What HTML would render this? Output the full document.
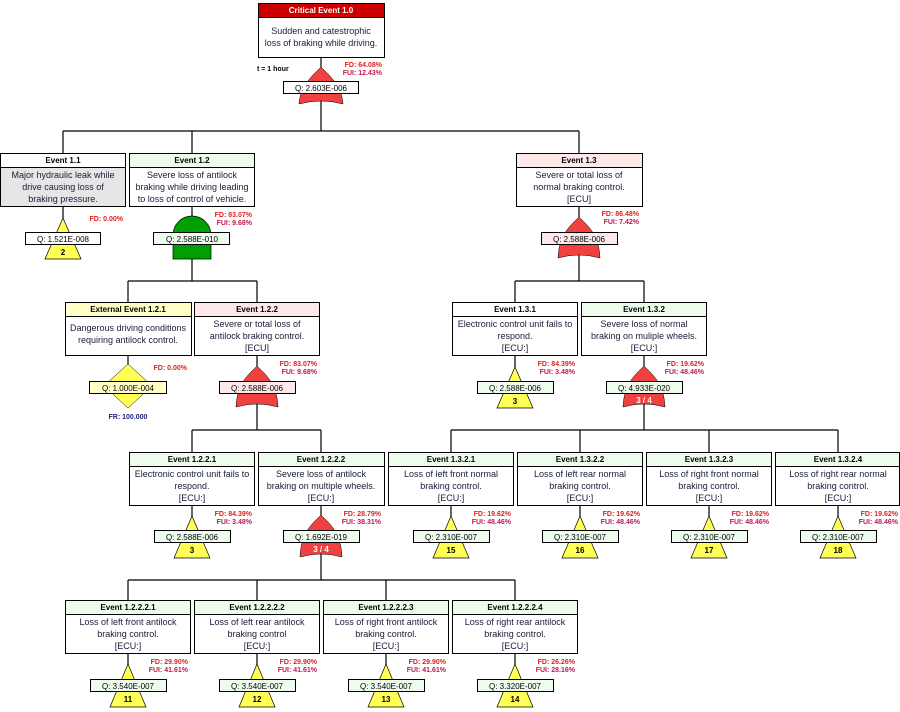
<!DOCTYPE html>
<html><head><meta charset="utf-8"><style>
html,body{margin:0;padding:0;background:#fff;width:900px;height:712px;overflow:hidden}
svg{display:block;font-family:"Liberation Sans",sans-serif}
.h{font-size:8px;font-weight:bold;fill:#000;text-anchor:middle}
.b{font-size:9px;fill:#1a1a3a;text-anchor:middle}
.q{font-size:8px;fill:#000;text-anchor:middle}
.fd{font-size:7px;font-weight:bold;fill:#e02020;text-anchor:end}
.fu{font-size:7px;font-weight:bold;fill:#c01850;text-anchor:end}
.n{font-size:8px;font-weight:bold;fill:#000;text-anchor:middle}
.nw{font-size:8px;font-weight:bold;fill:#fff;text-anchor:middle}
rect{stroke:#000;stroke-width:1}
line{stroke:#000;stroke-width:1.2}
</style></head><body>
<svg width="900" height="712" viewBox="0 0 900 712">
<!-- connectors -->
<line x1="321" y1="57" x2="321" y2="131"/>
<line x1="63" y1="131" x2="579" y2="131"/>
<line x1="63" y1="131" x2="63" y2="153"/>
<line x1="192" y1="131" x2="192" y2="153"/>
<line x1="579" y1="131" x2="579" y2="153"/>
<line x1="63" y1="206" x2="63" y2="220"/>
<line x1="192" y1="206" x2="192" y2="281"/>
<line x1="128" y1="281" x2="257" y2="281"/>
<line x1="128" y1="281" x2="128" y2="302"/>
<line x1="257" y1="281" x2="257" y2="302"/>
<line x1="579" y1="206" x2="579" y2="281"/>
<line x1="515" y1="281" x2="644" y2="281"/>
<line x1="515" y1="281" x2="515" y2="302"/>
<line x1="644" y1="281" x2="644" y2="302"/>
<line x1="128" y1="355" x2="128" y2="365"/>
<line x1="257" y1="355" x2="257" y2="430"/>
<line x1="192" y1="430" x2="321" y2="430"/>
<line x1="192" y1="430" x2="192" y2="452"/>
<line x1="321" y1="430" x2="321" y2="452"/>
<line x1="515" y1="355" x2="515" y2="368"/>
<line x1="644" y1="355" x2="644" y2="430"/>
<line x1="451" y1="430" x2="838" y2="430"/>
<line x1="451" y1="430" x2="451" y2="452"/>
<line x1="580" y1="430" x2="580" y2="452"/>
<line x1="709" y1="430" x2="709" y2="452"/>
<line x1="838" y1="430" x2="838" y2="452"/>
<line x1="192" y1="505" x2="192" y2="518"/>
<line x1="321" y1="505" x2="321" y2="580"/>
<line x1="128" y1="580" x2="515" y2="580"/>
<line x1="128" y1="580" x2="128" y2="600"/>
<line x1="257" y1="580" x2="257" y2="600"/>
<line x1="386" y1="580" x2="386" y2="600"/>
<line x1="515" y1="580" x2="515" y2="600"/>
<line x1="451" y1="505" x2="451" y2="518"/>
<line x1="580" y1="505" x2="580" y2="518"/>
<line x1="709" y1="505" x2="709" y2="518"/>
<line x1="838" y1="505" x2="838" y2="518"/>
<line x1="128" y1="653" x2="128" y2="666"/>
<line x1="257" y1="653" x2="257" y2="666"/>
<line x1="386" y1="653" x2="386" y2="666"/>
<line x1="515" y1="653" x2="515" y2="666"/>

<!-- TOP -->
<rect x="258.5" y="3.5" width="126" height="14" fill="#cc0000"/>
<text x="321" y="13" class="h" fill="#fff" style="fill:#fff">Critical Event 1.0</text>
<rect x="258.5" y="17.5" width="126" height="40" fill="#fff"/>
<text x="321" y="34" class="b">Sudden and catestrophic</text>
<text x="321" y="46" class="b">loss of braking while driving.</text>
<text x="257" y="71" style="font-size:7px;font-weight:bold" fill="#000">t = 1 hour</text>
<text x="382" y="67" class="fd">FD: 64.08%</text>
<text x="382" y="75" class="fu">FUI: 12.43%</text>
<path d="M321 67 C329 75,342 86,343 104 Q321 98,299 104 C300 86,313 75,321 67 Z" fill="#f04040" stroke="#000" stroke-width="0.5"/>
<rect x="283.5" y="81.5" width="75" height="12" fill="#fff"/>
<text x="321" y="91" class="q">Q: 2.603E-006</text>

<!-- 1.1 -->
<rect x="0.5" y="153.5" width="125" height="14" fill="#fff"/>
<text x="63" y="163" class="h">Event 1.1</text>
<rect x="0.5" y="167.5" width="125" height="39" fill="#e6e6e6"/>
<text x="63" y="178" class="b">Major hydraulic leak while</text>
<text x="63" y="190" class="b">drive causing loss of</text>
<text x="63" y="202" class="b">braking pressure.</text>
<text x="123" y="221" class="fd">FD: 0.00%</text>
<path d="M63 218 L81 259 L45 259 Z" fill="#ffff55" stroke="#000" stroke-width="0.7"/>
<rect x="25.5" y="232.5" width="75" height="12" fill="#fff"/>
<text x="63" y="242" class="q">Q: 1.521E-008</text>
<text x="63" y="255" class="n">2</text>

<!-- 1.2 -->
<rect x="129.5" y="153.5" width="125" height="14" fill="#eefcee"/>
<text x="192" y="163" class="h">Event 1.2</text>
<rect x="129.5" y="167.5" width="125" height="39" fill="#fff"/>
<text x="192" y="178" class="b">Severe loss of antilock</text>
<text x="192" y="190" class="b">braking while driving leading</text>
<text x="192" y="202" class="b">to loss of control of vehicle.</text>
<text x="252" y="217" class="fd">FD: 83.07%</text>
<text x="252" y="225" class="fu">FUI: 9.68%</text>
<path d="M173 259 L173 235 A19 19 0 0 1 211 235 L211 259 Z" fill="#00a000" stroke="#000" stroke-width="0.7"/>
<rect x="153.5" y="232.5" width="76" height="12" fill="#eefcee"/>
<text x="192" y="242" class="q">Q: 2.588E-010</text>

<!-- 1.3 -->
<rect x="516.5" y="153.5" width="126" height="14" fill="#fde9e9"/>
<text x="579" y="163" class="h">Event 1.3</text>
<rect x="516.5" y="167.5" width="126" height="39" fill="#fff"/>
<text x="579" y="178" class="b">Severe or total loss of</text>
<text x="579" y="190" class="b">normal braking control.</text>
<text x="579" y="202" class="b">[ECU]</text>
<text x="639" y="216" class="fd">FD: 86.48%</text>
<text x="639" y="224" class="fu">FUI: 7.42%</text>
<path d="M579 217 C587 225,599 234,600 258 Q579 252,558 258 C559 234,571 225,579 217 Z" fill="#f04040" stroke="#000" stroke-width="0.5"/>
<rect x="541.5" y="232.5" width="76" height="12" fill="#fde9e9"/>
<text x="579" y="242" class="q">Q: 2.588E-006</text>

<!-- 1.2.1 -->
<rect x="65.5" y="302.5" width="126" height="14" fill="#ffffc6"/>
<text x="128" y="312" class="h">External Event 1.2.1</text>
<rect x="65.5" y="316.5" width="126" height="39" fill="#fff"/>
<text x="128" y="331" class="b">Dangerous driving conditions</text>
<text x="128" y="343" class="b">requiring antilock control.</text>
<text x="187" y="370" class="fd">FD: 0.00%</text>
<path d="M128 364 L152 386 L128 408 L104 386 Z" fill="#ffff55" stroke="#000" stroke-width="0.5"/>
<rect x="89.5" y="381.5" width="77" height="12" fill="#ffffc6"/>
<text x="128" y="391" class="q">Q: 1.000E-004</text>
<text x="128" y="419" style="font-size:7px;font-weight:bold;text-anchor:middle" fill="#202080">FR: 100.000</text>

<!-- 1.2.2 -->
<rect x="194.5" y="302.5" width="125" height="14" fill="#fde9e9"/>
<text x="257" y="312" class="h">Event 1.2.2</text>
<rect x="194.5" y="316.5" width="125" height="39" fill="#fff"/>
<text x="257" y="327" class="b">Severe or total loss of</text>
<text x="257" y="339" class="b">antilock braking control.</text>
<text x="257" y="351" class="b">[ECU]</text>
<text x="317" y="366" class="fd">FD: 83.07%</text>
<text x="317" y="374" class="fu">FUI: 9.68%</text>
<path d="M257 366 C265 374,277 383,278 407 Q257 401,236 407 C237 383,249 374,257 366 Z" fill="#f04040" stroke="#000" stroke-width="0.5"/>
<rect x="219.5" y="381.5" width="76" height="12" fill="#fde9e9"/>
<text x="257" y="391" class="q">Q: 2.588E-006</text>

<!-- 1.3.1 -->
<rect x="452.5" y="302.5" width="125" height="14" fill="#fff"/>
<text x="515" y="312" class="h">Event 1.3.1</text>
<rect x="452.5" y="316.5" width="125" height="39" fill="#fff"/>
<text x="515" y="327" class="b">Electronic control unit fails to</text>
<text x="515" y="339" class="b">respond.</text>
<text x="515" y="351" class="b">[ECU:]</text>
<text x="575" y="366" class="fd">FD: 84.39%</text>
<text x="575" y="374" class="fu">FUI: 3.48%</text>
<path d="M515 367 L533 408 L497 408 Z" fill="#ffff55" stroke="#000" stroke-width="0.7"/>
<rect x="477.5" y="381.5" width="76" height="12" fill="#eefcee"/>
<text x="515" y="391" class="q">Q: 2.588E-006</text>
<text x="515" y="404" class="n">3</text>

<!-- 1.3.2 -->
<rect x="581.5" y="302.5" width="125" height="14" fill="#eefcee"/>
<text x="644" y="312" class="h">Event 1.3.2</text>
<rect x="581.5" y="316.5" width="125" height="39" fill="#fff"/>
<text x="644" y="327" class="b">Severe loss of normal</text>
<text x="644" y="339" class="b">braking on muliple wheels.</text>
<text x="644" y="351" class="b">[ECU:]</text>
<text x="704" y="366" class="fd">FD: 19.62%</text>
<text x="704" y="374" class="fu">FUI: 48.46%</text>
<path d="M644 366 C652 374,664 383,665 407 Q644 401,623 407 C624 383,636 374,644 366 Z" fill="#f04040" stroke="#000" stroke-width="0.5"/>
<rect x="606.5" y="381.5" width="76" height="12" fill="#eefcee"/>
<text x="644" y="391" class="q">Q: 4.933E-020</text>
<text x="644" y="403" class="nw">3 / 4</text>

<!-- 1.2.2.1 -->
<rect x="129.5" y="452.5" width="125" height="14" fill="#eefcee"/>
<text x="192" y="462" class="h">Event 1.2.2.1</text>
<rect x="129.5" y="466.5" width="125" height="39" fill="#fff"/>
<text x="192" y="477" class="b">Electronic control unit fails to</text>
<text x="192" y="489" class="b">respond.</text>
<text x="192" y="501" class="b">[ECU:]</text>
<text x="252" y="516" class="fd">FD: 84.39%</text>
<text x="252" y="524" class="fu">FUI: 3.48%</text>
<path d="M192 516 L210 558 L174 558 Z" fill="#ffff55" stroke="#000" stroke-width="0.7"/>
<rect x="154.5" y="530.5" width="76" height="12" fill="#eefcee"/>
<text x="192" y="540" class="q">Q: 2.588E-006</text>
<text x="192" y="553" class="n">3</text>

<!-- 1.2.2.2 -->
<rect x="258.5" y="452.5" width="126" height="14" fill="#eefcee"/>
<text x="321" y="462" class="h">Event 1.2.2.2</text>
<rect x="258.5" y="466.5" width="126" height="39" fill="#fff"/>
<text x="321" y="477" class="b">Severe loss of antilock</text>
<text x="321" y="489" class="b">braking on multiple wheels.</text>
<text x="321" y="501" class="b">[ECU:]</text>
<text x="381" y="516" class="fd">FD: 28.79%</text>
<text x="381" y="524" class="fu">FUI: 38.31%</text>
<path d="M321 515 C329 523,341 532,342 557 Q321 551,300 557 C301 532,313 523,321 515 Z" fill="#f04040" stroke="#000" stroke-width="0.5"/>
<rect x="283.5" y="530.5" width="76" height="12" fill="#eefcee"/>
<text x="321" y="540" class="q">Q: 1.692E-019</text>
<text x="321" y="552" class="nw">3 / 4</text>

<!-- 1.3.2.x -->
<rect x="388.5" y="452.5" width="125" height="14" fill="#eefcee"/>
<text x="451" y="462" class="h">Event 1.3.2.1</text>
<rect x="388.5" y="466.5" width="125" height="39" fill="#fff"/>
<text x="451" y="477" class="b">Loss of left front normal</text>
<text x="451" y="489" class="b">braking control.</text>
<text x="451" y="501" class="b">[ECU:]</text>
<text x="511" y="516" class="fd">FD: 19.62%</text>
<text x="511" y="524" class="fu">FUI: 48.46%</text>
<path d="M451 516 L469 558 L433 558 Z" fill="#ffff55" stroke="#000" stroke-width="0.7"/>
<rect x="413.5" y="530.5" width="76" height="12" fill="#eefcee"/>
<text x="451" y="540" class="q">Q: 2.310E-007</text>
<text x="451" y="553" class="n">15</text>

<rect x="517.5" y="452.5" width="125" height="14" fill="#eefcee"/>
<text x="580" y="462" class="h">Event 1.3.2.2</text>
<rect x="517.5" y="466.5" width="125" height="39" fill="#fff"/>
<text x="580" y="477" class="b">Loss of left rear normal</text>
<text x="580" y="489" class="b">braking control.</text>
<text x="580" y="501" class="b">[ECU:]</text>
<text x="640" y="516" class="fd">FD: 19.62%</text>
<text x="640" y="524" class="fu">FUI: 48.46%</text>
<path d="M580 516 L598 558 L562 558 Z" fill="#ffff55" stroke="#000" stroke-width="0.7"/>
<rect x="542.5" y="530.5" width="76" height="12" fill="#eefcee"/>
<text x="580" y="540" class="q">Q: 2.310E-007</text>
<text x="580" y="553" class="n">16</text>

<rect x="646.5" y="452.5" width="125" height="14" fill="#eefcee"/>
<text x="709" y="462" class="h">Event 1.3.2.3</text>
<rect x="646.5" y="466.5" width="125" height="39" fill="#fff"/>
<text x="709" y="477" class="b">Loss of right front normal</text>
<text x="709" y="489" class="b">braking control.</text>
<text x="709" y="501" class="b">[ECU:]</text>
<text x="769" y="516" class="fd">FD: 19.62%</text>
<text x="769" y="524" class="fu">FUI: 48.46%</text>
<path d="M709 516 L727 558 L691 558 Z" fill="#ffff55" stroke="#000" stroke-width="0.7"/>
<rect x="671.5" y="530.5" width="76" height="12" fill="#eefcee"/>
<text x="709" y="540" class="q">Q: 2.310E-007</text>
<text x="709" y="553" class="n">17</text>

<rect x="775.5" y="452.5" width="124" height="14" fill="#eefcee"/>
<text x="838" y="462" class="h">Event 1.3.2.4</text>
<rect x="775.5" y="466.5" width="124" height="39" fill="#fff"/>
<text x="838" y="477" class="b">Loss of right rear normal</text>
<text x="838" y="489" class="b">braking control.</text>
<text x="838" y="501" class="b">[ECU:]</text>
<text x="898" y="516" class="fd">FD: 19.62%</text>
<text x="898" y="524" class="fu">FUI: 48.46%</text>
<path d="M838 516 L856 558 L820 558 Z" fill="#ffff55" stroke="#000" stroke-width="0.7"/>
<rect x="800.5" y="530.5" width="76" height="12" fill="#eefcee"/>
<text x="838" y="540" class="q">Q: 2.310E-007</text>
<text x="838" y="553" class="n">18</text>

<!-- 1.2.2.2.x -->
<rect x="65.5" y="600.5" width="125" height="14" fill="#eefcee"/>
<text x="128" y="610" class="h">Event 1.2.2.2.1</text>
<rect x="65.5" y="614.5" width="125" height="39" fill="#fff"/>
<text x="128" y="625" class="b">Loss of left front antilock</text>
<text x="128" y="637" class="b">braking control.</text>
<text x="128" y="649" class="b">[ECU:]</text>
<text x="188" y="664" class="fd">FD: 29.90%</text>
<text x="188" y="672" class="fu">FUI: 41.61%</text>
<path d="M128 664 L146 707 L110 707 Z" fill="#ffff55" stroke="#000" stroke-width="0.7"/>
<rect x="90.5" y="679.5" width="76" height="12" fill="#eefcee"/>
<text x="128" y="689" class="q">Q: 3.540E-007</text>
<text x="128" y="702" class="n">11</text>

<rect x="194.5" y="600.5" width="125" height="14" fill="#eefcee"/>
<text x="257" y="610" class="h">Event 1.2.2.2.2</text>
<rect x="194.5" y="614.5" width="125" height="39" fill="#fff"/>
<text x="257" y="625" class="b">Loss of left rear antilock</text>
<text x="257" y="637" class="b">braking control</text>
<text x="257" y="649" class="b">[ECU:]</text>
<text x="317" y="664" class="fd">FD: 29.90%</text>
<text x="317" y="672" class="fu">FUI: 41.61%</text>
<path d="M257 664 L275 707 L239 707 Z" fill="#ffff55" stroke="#000" stroke-width="0.7"/>
<rect x="219.5" y="679.5" width="76" height="12" fill="#eefcee"/>
<text x="257" y="689" class="q">Q: 3.540E-007</text>
<text x="257" y="702" class="n">12</text>

<rect x="323.5" y="600.5" width="125" height="14" fill="#eefcee"/>
<text x="386" y="610" class="h">Event 1.2.2.2.3</text>
<rect x="323.5" y="614.5" width="125" height="39" fill="#fff"/>
<text x="386" y="625" class="b">Loss of right front antilock</text>
<text x="386" y="637" class="b">braking control.</text>
<text x="386" y="649" class="b">[ECU:]</text>
<text x="446" y="664" class="fd">FD: 29.90%</text>
<text x="446" y="672" class="fu">FUI: 41.61%</text>
<path d="M386 664 L404 707 L368 707 Z" fill="#ffff55" stroke="#000" stroke-width="0.7"/>
<rect x="348.5" y="679.5" width="76" height="12" fill="#eefcee"/>
<text x="386" y="689" class="q">Q: 3.540E-007</text>
<text x="386" y="702" class="n">13</text>

<rect x="452.5" y="600.5" width="125" height="14" fill="#eefcee"/>
<text x="515" y="610" class="h">Event 1.2.2.2.4</text>
<rect x="452.5" y="614.5" width="125" height="39" fill="#fff"/>
<text x="515" y="625" class="b">Loss of right rear antilock</text>
<text x="515" y="637" class="b">braking control.</text>
<text x="515" y="649" class="b">[ECU:]</text>
<text x="575" y="664" class="fd">FD: 26.26%</text>
<text x="575" y="672" class="fu">FUI: 28.16%</text>
<path d="M515 664 L533 707 L497 707 Z" fill="#ffff55" stroke="#000" stroke-width="0.7"/>
<rect x="477.5" y="679.5" width="76" height="12" fill="#eefcee"/>
<text x="515" y="689" class="q">Q: 3.320E-007</text>
<text x="515" y="702" class="n">14</text>
</svg>
</body></html>
